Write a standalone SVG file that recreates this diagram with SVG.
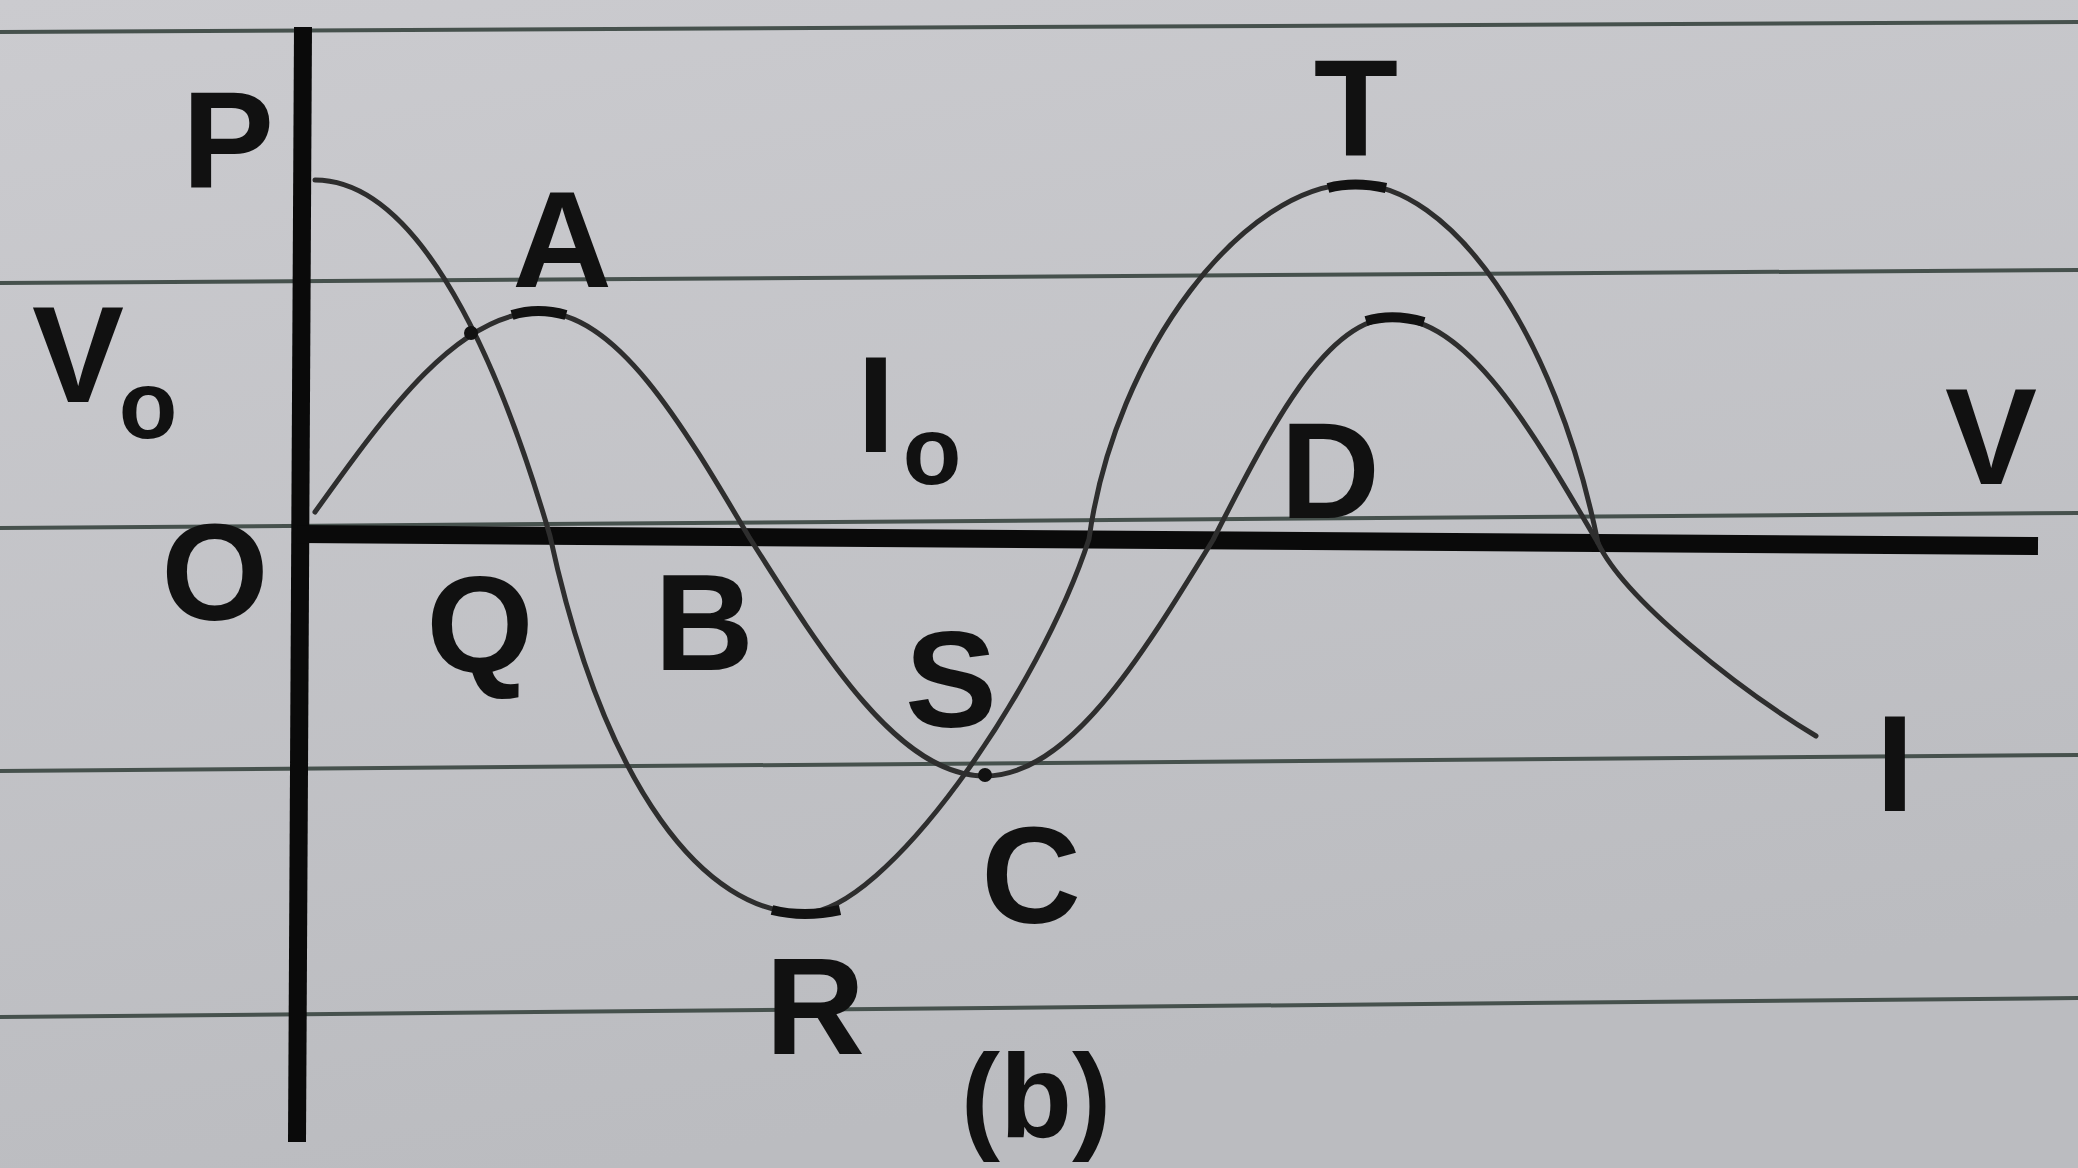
<svg xmlns="http://www.w3.org/2000/svg" width="2078" height="1168" viewBox="0 0 2078 1168">
<defs>
<linearGradient id="bg" x1="0" y1="0" x2="0.3" y2="1">
<stop offset="0" stop-color="#cbcbcf"/>
<stop offset="1" stop-color="#bbbcc0"/>
</linearGradient>
<style>
.rule{stroke:#46514d;stroke-width:4;fill:none}
.axis{stroke:#0a0a0a;stroke-width:18;fill:none;stroke-linecap:butt}
.curve{stroke:#2e2e2e;stroke-width:5;fill:none;stroke-linecap:round}
.blob{stroke:#111;stroke-width:10;fill:none;stroke-linecap:butt}
.lbl{font-family:"Liberation Sans",Arial,sans-serif;font-weight:bold;font-size:138px;fill:#111;text-anchor:middle}
.sub{font-size:96px}
</style>
</defs>
<rect x="0" y="0" width="2078" height="1168" fill="url(#bg)"/>
<g id="rules">
<line class="rule" x1="0" y1="32" x2="2078" y2="22"/>
<line class="rule" x1="0" y1="283" x2="2078" y2="270"/>
<line class="rule" x1="0" y1="528" x2="2078" y2="513"/>
<line class="rule" x1="0" y1="771" x2="2078" y2="755"/>
<line class="rule" x1="0" y1="1017" x2="2078" y2="998"/>
</g>
<g id="axes">
<line class="axis" x1="303" y1="27" x2="297" y2="1142"/>
<line class="axis" x1="297" y1="534" x2="2038" y2="546"/>
</g>
<g id="curves">
<path id="curve-V" class="curve" d="M315,180 C410,180 490,330 550,536 C605,790 705,913 804,913 C885,913 1040,690 1089,539 C1115,350 1245,184 1354,184 C1450,184 1555,330 1598,543 C1625,600 1740,690 1816,736"/>
<path id="curve-I" class="curve" d="M315,512 C388,410 459,312 540,312 C616,312 681,422 749,537 C826,659 900,776 985,776 C1068,776 1139,661 1213,540 C1271,426 1327,318 1392,318 C1467,318 1531,428 1598,543"/>
<path class="blob" d="M1328,188 Q1354,181 1386,188"/>
<path class="blob" d="M772,910 Q804,918 840,910"/>
<path class="blob" d="M512,315 Q538,307 566,315"/>
<path class="blob" d="M1366,321 Q1393,313 1424,322"/>
<circle cx="471" cy="333" r="7" fill="#111"/>
<circle cx="985" cy="775" r="7" fill="#111"/>
</g>
<g id="labels">
<text class="lbl" x="228" y="187">P</text>
<text class="lbl" x="562" y="287">A</text>
<text class="lbl" x="78" y="402">V</text>
<text class="lbl sub" x="148" y="438">o</text>
<text class="lbl" x="876" y="452">I</text>
<text class="lbl sub" x="932" y="484">o</text>
<text class="lbl" x="215" y="620">O</text>
<text class="lbl" x="480" y="672">Q</text>
<text class="lbl" x="704" y="670">B</text>
<text class="lbl" x="951" y="727">S</text>
<text class="lbl" x="1031" y="923">C</text>
<text class="lbl" x="815" y="1054">R</text>
<text class="lbl" x="1036" y="1137" style="font-size:118px">(b)</text>
<text class="lbl" x="1356" y="155">T</text>
<text class="lbl" x="1330" y="518">D</text>
<text class="lbl" x="1991" y="484">V</text>
<text class="lbl" x="1895" y="811">I</text>
</g>
</svg>
